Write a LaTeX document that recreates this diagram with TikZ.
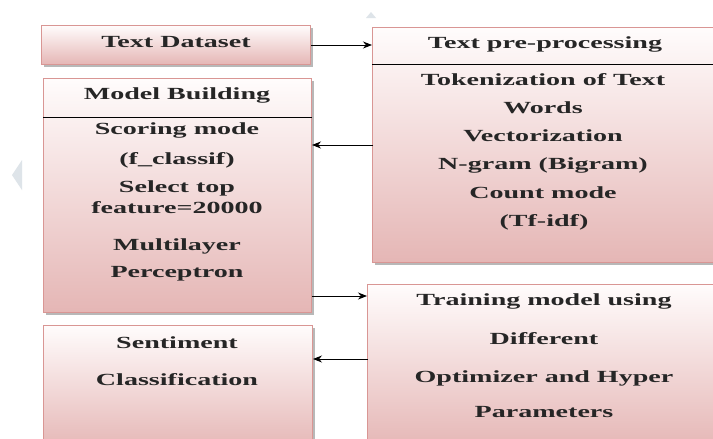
\documentclass[tikz,border=0pt]{standalone}
\usepackage{fontspec}
\setmainfont{Liberation Serif}[FakeStretch=1.65]
\usetikzlibrary{arrows.meta}
\definecolor{pinkbot}{RGB}{229,182,181}
\definecolor{pinktop}{RGB}{255,252,252}
\definecolor{edgepink}{RGB}{217,150,148}
\definecolor{wm}{RGB}{222,228,233}
\tikzset{
  boxshape/.style={draw=edgepink, line width=1pt, top color=pinktop, bottom color=pinkbot, inner sep=0pt, anchor=north west},
  shadowbox/.style={fill=black!28, draw=none},
  lbl/.style={font=\fontsize{17}{20}\selectfont\bfseries, text=black!85, inner sep=0pt, anchor=center},
  arr/.style={-{Stealth[length=9pt,width=7pt]}, line width=0.9pt, black},
  divider/.style={line width=1pt, black}
}
\begin{document}
\begin{tikzpicture}[x=1pt,y=-1pt]
\useasboundingbox (0,0) rectangle (713,439);
\clip (0,0) rectangle (713,439);
\fill[white] (0,0) rectangle (713,439);
% watermark fragments
\fill[wm] (366,18) -- (371,12) -- (376,18) -- cycle;
\fill[wm] (12,175) -- (22,160) -- (22,190) -- cycle;
% shadows
\fill[shadowbox] (44,28) rectangle (313,67);
\fill[shadowbox] (46,81) rectangle (314,315);
\fill[shadowbox] (375,30) rectangle (720,265);
\fill[shadowbox] (370,287) rectangle (720,445);
\fill[shadowbox] (46,328) rectangle (315,445);
% boxes
\node[boxshape, minimum width=269pt, minimum height=39pt] (td) at (41,25) {};
\node[boxshape, minimum width=268pt, minimum height=234pt] (mb) at (43,78) {};
\node[boxshape, minimum width=350pt, minimum height=235pt] (tp) at (372,27) {};
\node[boxshape, minimum width=355pt, minimum height=165pt] (tr) at (367,284) {};
\node[boxshape, minimum width=269pt, minimum height=125pt] (sc) at (43,325) {};
% dividers
\draw[divider] (mb.west |- 0,117) -- (mb.east |- 0,117);
\draw[divider] (tp.west |- 0,64) -- (tp.east |- 0,64);
% texts
\node[lbl] (t1) at (176,42) {Text Dataset};
\node[lbl] (m1) at (177,95) {Model Building};
\node[lbl] (m2) at (177,130) {Scoring mode};
\node[lbl] (m3) at (177,160) {(f\_classif)};
\node[lbl] (m4) at (177,188) {Select top};
\node[lbl] (m5) at (177,208) {feature=20000};
\node[lbl] (m6) at (177,246) {Multilayer};
\node[lbl] (m7) at (177,274) {Perceptron};
\node[lbl] (p1) at (545,44) {Text pre-processing};
\node[lbl] (p2) at (543,80) {Tokenization of Text};
\node[lbl] (p3) at (543,108) {Words};
\node[lbl] (p4) at (543,136) {Vectorization};
\node[lbl] (p5) at (543,165) {N-gram (Bigram)};
\node[lbl] (p6) at (543,193) {Count mode};
\node[lbl] (p7) at (544,222) {(Tf-idf)};
\node[lbl] (r1) at (544,301) {Training model using};
\node[lbl] (r2) at (544,339) {Different};
\node[lbl] (r3) at (544,378) {Optimizer and Hyper};
\node[lbl] (r4) at (544,412) {Parameters};
\node[lbl] (s1) at (177,343) {Sentiment};
\node[lbl] (s2) at (177,380) {Classification};
% connectors
\coordinate (a1) at (311,45);
\coordinate (a2) at (373,145);
\coordinate (a3) at (312,296);
\coordinate (a4) at (368,359);
\draw[arr] (a1) -- (a1 -| tp.west);
\draw[arr] (a2) -- (a2 -| mb.east);
\draw[arr] (a3) -- (a3 -| tr.west);
\draw[arr] (a4) -- (a4 -| sc.east);
\end{tikzpicture}
\end{document}
